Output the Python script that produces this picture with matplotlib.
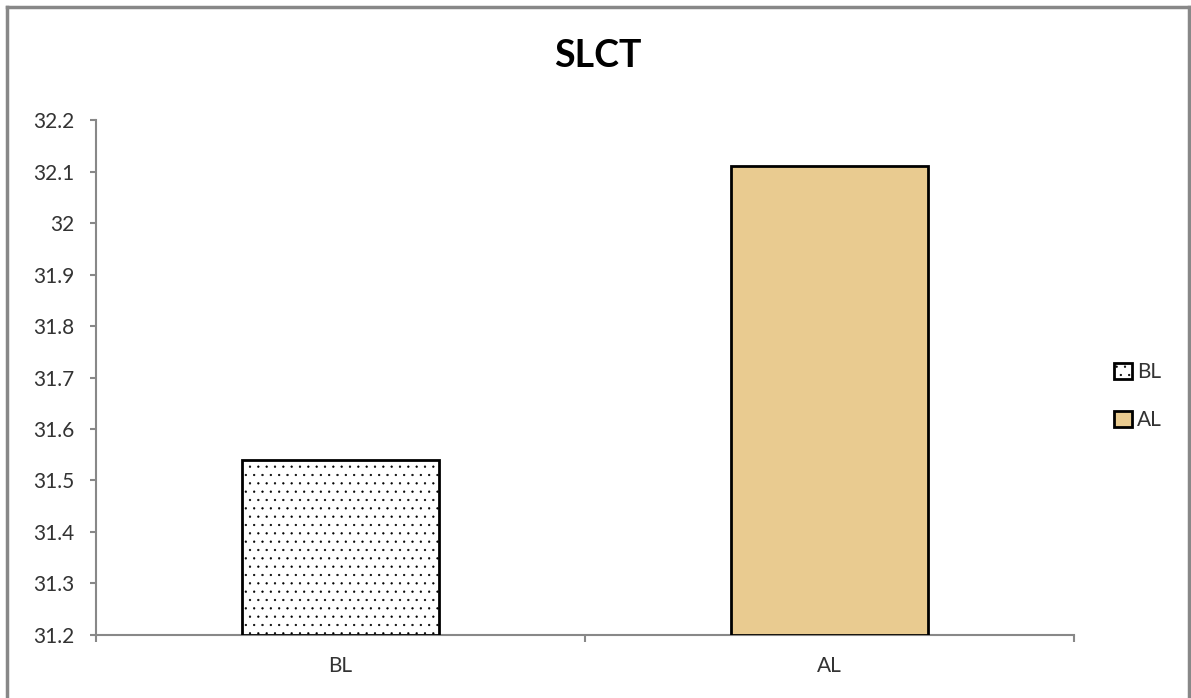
import numpy as np
import matplotlib
matplotlib.use('Agg')
import matplotlib.pyplot as plt
from matplotlib.patches import Patch
from matplotlib.lines import Line2D

# data
categories = ['BL', 'AL']
values = [31.54, 32.11]
colors = ['white', '#E9CB90']
hatches = ['..', '']

plt.rcParams['font.family'] = ['Lato', 'DejaVu Sans']
plt.rcParams['hatch.linewidth'] = 0.4
plt.rcParams['hatch.color'] = '#666666'

fig = plt.figure(figsize=(11.91, 6.98), dpi=100)
ax = fig.add_axes([0.0806, 0.0903, 0.8212, 0.7377])

x = np.arange(len(categories))
base = 31.2
for i in range(len(categories)):
    ax.bar(x[i], values[i] - base, bottom=base, width=0.403,
           color=colors[i], edgecolor='black', linewidth=2,
           hatch=hatches[i], zorder=3)

ax.set_ylim(31.2, 32.2)
ax.set_yticks(np.arange(31.2, 32.21, 0.1))
ax.set_yticklabels(['%g' % round(v, 1) for v in np.arange(31.2, 32.21, 0.1)])
ax.set_xlim(-0.5, 1.5)
ax.set_xticks(x)
ax.set_xticklabels(categories)
ax.set_xticks([-0.5, 0.5, 1.5], minor=True)

for s in ['top', 'right']:
    ax.spines[s].set_visible(False)
for s in ['left', 'bottom']:
    ax.spines[s].set_color('#888888')
    ax.spines[s].set_linewidth(1.5)

ax.tick_params(axis='y', length=4.5, width=1.5, color='#888888',
               labelsize=15, labelcolor='#333333', pad=11)
ax.tick_params(axis='x', which='major', length=0, labelsize=15,
               labelcolor='#333333', pad=15)
ax.tick_params(axis='x', which='minor', length=5, width=1.5, color='#888888')

fig.text(0.502, 0.92, 'SLCT', ha='center', va='center',
         fontsize=27, fontweight='bold', color='black')

handles = [Patch(facecolor=colors[i], edgecolor='black', linewidth=2,
                 hatch=hatches[i], label=categories[i]) for i in range(2)]
fig.legend(handles=handles, loc='center left', bbox_to_anchor=(0.9196, 0.4327),
           frameon=False, fontsize=15, handlelength=0.85, handleheight=0.8,
           handletextpad=0.25, labelspacing=1.35, labelcolor='#333333')

# outer border
for xs, ys in [([7, 7], [0, 691]), ([7, 1189], [691, 691]), ([1189, 1189], [0, 691])]:
    fig.add_artist(Line2D(np.array(xs) / 1191, np.array(ys) / 698,
                          color='#888888', linewidth=2.5))

fig.savefig('out.png', dpi=100, facecolor='white')
